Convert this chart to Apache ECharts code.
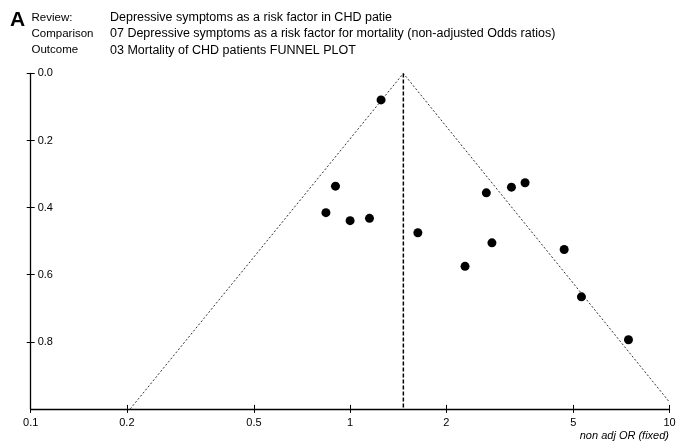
<!DOCTYPE html>
<html>
<head>
<meta charset="utf-8">
<script src="https://cdn.jsdelivr.net/npm/echarts@6/dist/echarts.min.js"></script>
<style>
html,body{margin:0;padding:0;background:#fff;}
#chart{width:680px;height:442px;}
</style>
</head>
<body>
<div id="chart"></div>
<script>
// Study odds ratios (x, log scale) and standard errors (y, inverted)
const studyOR = [1.25, 0.90, 0.84, 1.00, 1.15, 1.63, 2.67, 3.20, 3.53, 2.78, 2.29, 4.68, 5.30, 7.44];
const studySE = [0.079, 0.336, 0.415, 0.439, 0.432, 0.475, 0.356, 0.339, 0.326, 0.505, 0.575, 0.525, 0.666, 0.794];
// Pooled estimate and funnel limits
const pooledOR = 1.468;
const funnelLeftBottom = [0.205, 1.0];
const funnelRightEnd = [10, 0.98];
// Axis ticks
const xTickValues = [0.1, 0.2, 0.5, 1, 2, 5, 10];
const xTickLabels = ['0.1', '0.2', '0.5', '1', '2', '5', '10'];
const yTickValues = [0, 0.2, 0.4, 0.6, 0.8];
const yTickLabels = ['0.0', '0.2', '0.4', '0.6', '0.8'];
// Header
const headerKeys = ['Review:', 'Comparison', 'Outcome'];
const headerValues = [
  'Depressive symptoms as a risk factor in CHD patie',
  '07 Depressive symptoms as a risk factor for mortality (non-adjusted Odds ratios)',
  '03 Mortality of CHD patients FUNNEL PLOT'
];
const xAxisTitle = 'non adj OR (fixed)';

const FONT = "'Liberation Sans', Arial, sans-serif";
function labelFor(values, labels, v) {
  let best = 0, bd = Infinity;
  values.forEach((t, i) => { const d = Math.abs(Math.log(t + 1e-9) - Math.log(v + 1e-9)); if (d < bd) { bd = d; best = i; } });
  return labels[best];
}
function yLabelFor(v) {
  let best = 0, bd = Infinity;
  yTickValues.forEach((t, i) => { const d = Math.abs(t - v); if (d < bd) { bd = d; best = i; } });
  return yTickLabels[best];
}

const points = studyOR.map((o, i) => [o, studySE[i]]);
const pooledLine = [[pooledOR, 0], [pooledOR, 1.0]];
const funnel = [funnelLeftBottom, [pooledOR, 0], funnelRightEnd];

const GL = 30.7, GR = 10.5, GT = 73.4, GB = 33.1;
const gridW = 680 - GL - GR, gridH = 442 - GT - GB;

const graphics = [];
graphics.push({ type: 'text', left: 10, top: 10, style: { text: 'A', font: 'bold 21px ' + FONT, fill: '#000' } });
headerKeys.forEach((k, i) => {
  const yc = 17.5 + i * 16.3;
  graphics.push({ type: 'text', x: 31.5, y: yc, style: { text: k, font: '11.5px ' + FONT, fill: '#000', verticalAlign: 'middle' } });
  graphics.push({ type: 'text', x: 110, y: yc, style: { text: headerValues[i], font: '12.5px ' + FONT, fill: '#000', verticalAlign: 'middle' } });
});
graphics.push({ type: 'text', x: 669, y: 436, style: { text: xAxisTitle, font: 'italic 11px ' + FONT, fill: '#000', align: 'right', verticalAlign: 'middle' } });

const chart = echarts.init(document.getElementById('chart'), null, { renderer: 'canvas' });
const xBase = {
  type: 'log', logBase: 10, min: 0.1, max: 10, gridIndex: 0,
  splitLine: { show: false }, minorTick: { show: false }
};
const yBase = {
  type: 'value', inverse: true, min: 0, max: 1.0, gridIndex: 0,
  splitLine: { show: false }
};
chart.setOption({
  animation: false,
  backgroundColor: '#fff',
  grid: { left: GL, right: GR, top: GT, bottom: GB, containLabel: false },
  graphic: graphics,
  xAxis: [
    Object.assign({}, xBase, {
      position: 'bottom',
      axisLine: { show: true, onZero: false, lineStyle: { color: '#000', width: 1.3 } },
      axisTick: { show: true, inside: false, length: 4, customValues: xTickValues, lineStyle: { color: '#000', width: 1 } },
      axisLabel: { show: true, customValues: xTickValues, margin: 9, color: '#000', fontSize: 11, fontFamily: FONT,
        formatter: v => labelFor(xTickValues, xTickLabels, v) }
    }),
    Object.assign({}, xBase, {
      position: 'top', offset: -gridH,
      axisLine: { show: false, onZero: false },
      axisTick: { show: true, inside: false, length: 4, customValues: xTickValues, lineStyle: { color: '#000', width: 1 } },
      axisLabel: { show: false }
    })
  ],
  yAxis: [
    Object.assign({}, yBase, {
      position: 'left',
      axisLine: { show: true, onZero: false, lineStyle: { color: '#000', width: 1.3 } },
      axisTick: { show: true, inside: false, length: 4, customValues: yTickValues, lineStyle: { color: '#000', width: 1 } },
      axisLabel: { show: true, inside: true, customValues: yTickValues, margin: 7, color: '#000', fontSize: 11, fontFamily: FONT,
        formatter: v => yLabelFor(v) }
    }),
    Object.assign({}, yBase, {
      position: 'right', offset: -gridW,
      axisLine: { show: false, onZero: false },
      axisTick: { show: true, inside: false, length: 4, customValues: yTickValues, lineStyle: { color: '#000', width: 1 } },
      axisLabel: { show: false }
    })
  ],
  series: [
    {
      type: 'line', data: funnel, xAxisIndex: 0, yAxisIndex: 0, symbol: 'none', silent: true,
      lineStyle: { color: '#333', width: 1, type: [2, 2] }, z: 2
    },
    {
      type: 'line', data: pooledLine, xAxisIndex: 0, yAxisIndex: 0, symbol: 'none', silent: true,
      lineStyle: { color: '#000', width: 1.5, type: [4, 2] }, z: 3
    },
    {
      type: 'scatter', data: points, xAxisIndex: 0, yAxisIndex: 0, symbol: 'circle', symbolSize: 9,
      itemStyle: { color: '#000', opacity: 1 }, z: 5
    }
  ]
});
</script>
</body>
</html>
